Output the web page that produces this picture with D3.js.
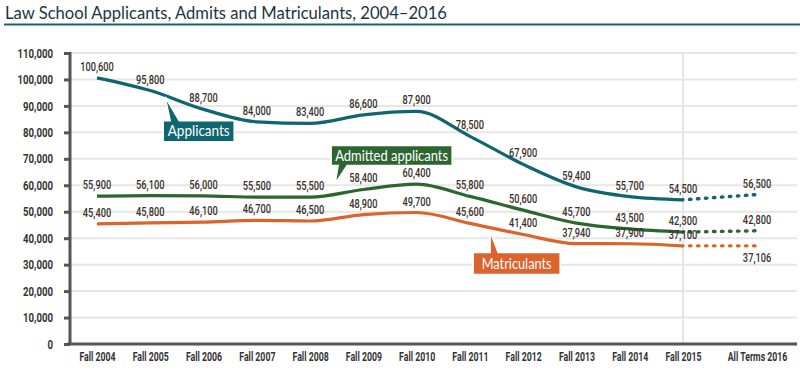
<!DOCTYPE html>
<html>
<head>
<meta charset="utf-8">
<script src="https://cdn.jsdelivr.net/npm/d3@7"></script>
<style>
  body { margin: 0; background: #fff; }
  svg { display: block; }
</style>
</head>
<body>
<script>
// data
var categories = ["Fall 2004", "Fall 2005", "Fall 2006", "Fall 2007", "Fall 2008", "Fall 2009",
  "Fall 2010", "Fall 2011", "Fall 2012", "Fall 2013", "Fall 2014", "Fall 2015", "All Terms 2016"];
var applicants = [100600, 95800, 88700, 84000, 83400, 86600, 87900, 78500, 67900, 59400, 55700, 54500, 56500];
var admitted = [55900, 56100, 56000, 55500, 55500, 58400, 60400, 55800, 50600, 45700, 43500, 42300, 42800];
var matriculants = [45400, 45800, 46100, 46700, 46500, 48900, 49700, 45600, 41400, 37940, 37900, 37100, 37106];
var yTicks = [0, 10000, 20000, 30000, 40000, 50000, 60000, 70000, 80000, 90000, 100000, 110000];

var width = 800, height = 373;
var lastGap = 1.39; // the 2016 column sits a bit further out

var svg = d3.select("body").append("svg")
  .attr("width", width)
  .attr("height", height);

// squeeze text horizontally around its anchor x (no condensed font installed)
function squeeze(sel, k) {
  sel.each(function(){
    var ax = +d3.select(this).attr("x") || 0;
    d3.select(this).attr("transform",
      "translate(" + ax + ",0) scale(" + k + ",1) translate(" + (-ax) + ",0)");
  });
}

// title
svg.append("text")
  .attr("x", 5).attr("y", 19)
  .attr("font-family", "Lato, 'Open Sans', sans-serif")
  .attr("font-size", 18)
  .attr("fill", "#1d3540")
  .attr("textLength", 442).attr("lengthAdjust", "spacingAndGlyphs")
  .text("Law School Applicants, Admits and Matriculants, 2004\u20132016");
svg.append("line")
  .attr("x1", 4).attr("x2", 800).attr("y1", 24.5).attr("y2", 24.5)
  .attr("stroke", "#16666f").attr("stroke-width", 2);

// scales
var slot = function(i){ return i < 11 ? i : 11 + (i - 11) * lastGap; };
var x = d3.scaleLinear().domain([0, 11]).range([97, 683]);
var y = d3.scaleLinear().domain([0, 110000]).range([344, 53]);
var fmt = d3.format(",");

var numFont = "Roboto, 'Liberation Sans', sans-serif";

// gridlines
svg.append("g").selectAll("line")
  .data(yTicks.slice(1))
  .enter().append("line")
  .attr("x1", 70).attr("x2", 797)
  .attr("y1", function(d){ return y(d); })
  .attr("y2", function(d){ return y(d); })
  .attr("stroke", "#e6e6e6").attr("stroke-width", 2);

// vertical separator at Fall 2015
svg.append("line")
  .attr("x1", x(slot(11))).attr("x2", x(slot(11)))
  .attr("y1", y(110000) - 1).attr("y2", y(0))
  .attr("stroke", "#e6e6e6").attr("stroke-width", 2);

// y axis
var yAxis = svg.append("g")
  .attr("transform", "translate(70,0)")
  .call(d3.axisLeft(y).tickValues(yTicks).tickSize(6).tickPadding(11).tickFormat(fmt));
yAxis.select(".domain").attr("stroke", "#555").attr("stroke-width", 3)
  .attr("d", "M0," + (y(110000) - 1) + "V" + y(0));
yAxis.selectAll(".tick line").attr("stroke", "#555").attr("stroke-width", 3);
yAxis.selectAll(".tick text")
  .attr("font-family", numFont).attr("font-weight", "bold")
  .attr("font-size", 13).attr("fill", "#333")
  .call(squeeze, 0.74);

// x axis
var xAxis = svg.append("g")
  .attr("transform", "translate(0," + y(0) + ")")
  .call(d3.axisBottom(x).tickValues(categories.map(function(d, i){ return slot(i); }))
    .tickSize(0).tickPadding(8)
    .tickFormat(function(d, i){ return categories[i]; }));
xAxis.select(".domain").attr("stroke", "#555").attr("stroke-width", 3)
  .attr("d", "M67,0H797");
xAxis.selectAll(".tick text")
  .attr("font-family", numFont).attr("font-weight", "bold")
  .attr("font-size", 12.5).attr("fill", "#333")
  .call(squeeze, 0.7);

// series
var series = [
  { name: "Applicants", values: applicants, color: "#10666f", labelW: 62 },
  { name: "Admitted applicants", values: admitted, color: "#2d6530", labelW: 113 },
  { name: "Matriculants", values: matriculants, color: "#db632c", labelW: 70 }
];

var line = d3.line()
  .x(function(d){ return x(slot(d.i)); })
  .y(function(d){ return y(d.v); })
  .curve(d3.curveMonotoneX);

series.forEach(function(s){
  var pts = s.values.map(function(v, i){ return { i: i, v: v }; });
  svg.append("path")
    .datum(pts.slice(0, 12))
    .attr("d", line)
    .attr("fill", "none")
    .attr("stroke", s.color).attr("stroke-width", 3.2);
  svg.append("path")
    .datum(pts.slice(11))
    .attr("d", line)
    .attr("fill", "none")
    .attr("stroke", s.color).attr("stroke-width", 3.4)
    .attr("stroke-linecap", "round")
    .attr("stroke-dasharray", "0,6.5,1.5,0");
});

// value labels
series.forEach(function(s){
  svg.append("g").selectAll("text")
    .data(s.values)
    .enter().append("text")
    .attr("x", function(d, i){ return x(slot(i)); })
    .attr("y", function(d, i){
      if (s.name === "Matriculants" && i === 12) return y(d) + 16;
      return y(d) - 7;
    })
    .attr("text-anchor", "middle")
    .attr("font-family", numFont)
    .attr("font-weight", 500)
    .attr("font-size", 12.5)
    .attr("fill", "#3a302c")
    .text(function(d){ return fmt(d); })
    .call(squeeze, 0.74);
});

// callouts: tip anchored on the series, box placed relative to the tip
var callouts = [
  { s: 0, at: 1.28, tipDy: 1, box: [-2, 24, 71, 21], base: [5, 14] },
  { s: 1, at: 4.47, tipDy: -10, box: [-4, -38, 121, 20], base: [3, 12] },
  { s: 2, at: 7.38, tipDy: 4, box: [-17, 21, 87, 22], base: [0, 8] }
];

callouts.forEach(function(c){
  var s = series[c.s];
  var k = Math.floor(c.at), f = c.at - k;
  var tx = x(c.at);
  var ty = y(s.values[k] + (s.values[k + 1] - s.values[k]) * f) + c.tipDy;
  var bx = tx + c.box[0], by = ty + c.box[1], bw = c.box[2], bh = c.box[3];
  var below = c.box[1] > 0;
  var edge = below ? by : by + bh;
  var p = d3.path();
  p.moveTo(bx, by);
  if (below) {
    p.lineTo(tx + c.base[0], by);
    p.lineTo(tx, ty);
    p.lineTo(tx + c.base[1], by);
  }
  p.lineTo(bx + bw, by);
  p.lineTo(bx + bw, by + bh);
  if (!below) {
    p.lineTo(tx + c.base[1], edge);
    p.lineTo(tx, ty);
    p.lineTo(tx + c.base[0], edge);
  }
  p.lineTo(bx, by + bh);
  p.closePath();
  svg.append("path")
    .attr("d", p.toString())
    .attr("fill", s.color)
    .attr("stroke", "#fff").attr("stroke-width", 1.5)
    .attr("stroke-linejoin", "miter");
  svg.append("text")
    .attr("x", bx + bw / 2).attr("y", by + bh / 2 + 5)
    .attr("text-anchor", "middle")
    .attr("font-family", "Lato, 'Open Sans', sans-serif")
    .attr("font-size", 15)
    .attr("fill", "#fff")
    .attr("textLength", s.labelW).attr("lengthAdjust", "spacingAndGlyphs")
    .text(s.name);
});
</script>
</body>
</html>
